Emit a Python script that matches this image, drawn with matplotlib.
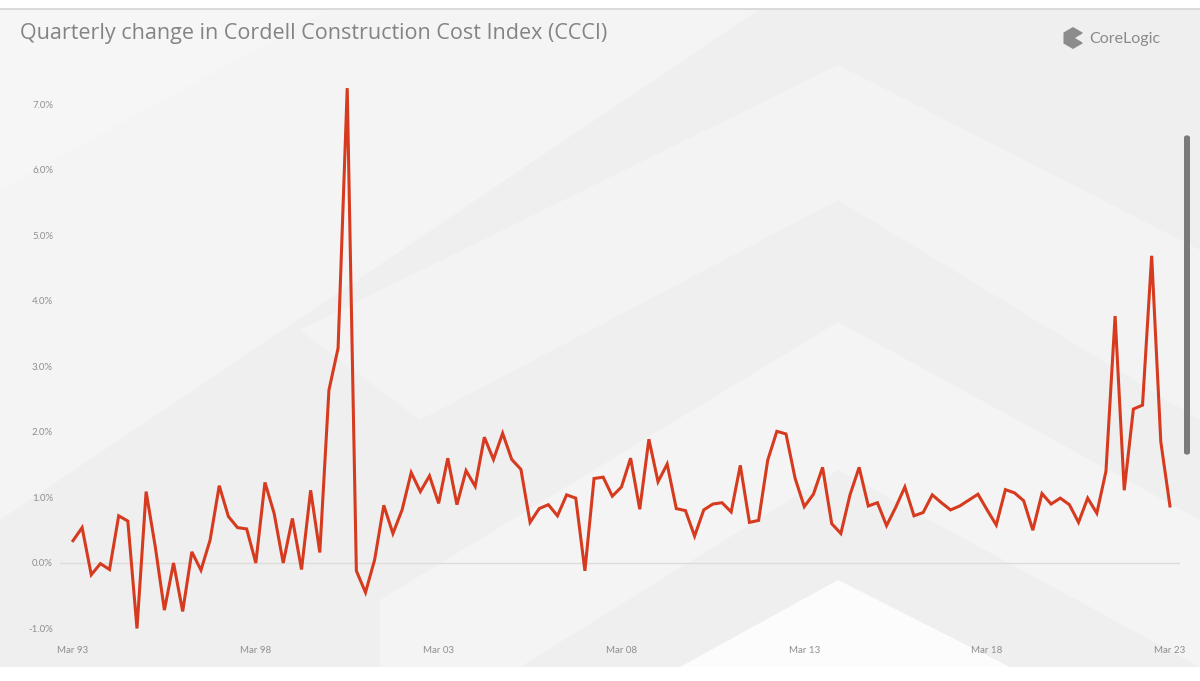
import matplotlib
matplotlib.use("Agg")
import matplotlib.pyplot as plt
from matplotlib.patches import Polygon, Rectangle, FancyBboxPatch
import numpy as np

# quarterly % change, Mar 93 .. Mar 23
ccci_change = [
    0.34, 0.54, -0.18, -0.01, -0.10, 0.72, 0.64, -1.00, 1.09, 0.25,
    -0.72, 0.00, -0.74, 0.17, -0.11, 0.35, 1.18, 0.71, 0.54, 0.52,
    0.00, 1.23, 0.76, 0.00, 0.68, -0.10, 1.11, 0.16, 2.64, 3.28,
    7.25, -0.12, -0.45, 0.05, 0.88, 0.45, 0.81, 1.38, 1.09, 1.33,
    0.91, 1.60, 0.89, 1.41, 1.17, 1.92, 1.58, 1.98, 1.58, 1.43,
    0.62, 0.83, 0.89, 0.72, 1.04, 0.99, -0.12, 1.29, 1.31, 1.02,
    1.16, 1.60, 0.82, 1.89, 1.24, 1.51, 0.83, 0.80, 0.41, 0.81,
    0.90, 0.92, 0.78, 1.49, 0.62, 0.65, 1.57, 2.01, 1.97, 1.29,
    0.86, 1.05, 1.46, 0.60, 0.45, 1.04, 1.46, 0.87, 0.92, 0.57,
    0.85, 1.16, 0.72, 0.77, 1.04, 0.92, 0.81, 0.87, 0.96, 1.05,
    0.81, 0.58, 1.12, 1.07, 0.95, 0.50, 1.06, 0.90, 0.99, 0.89,
    0.62, 0.99, 0.76, 1.40, 3.77, 1.11, 2.35, 2.41, 4.69, 1.85,
    0.87,
]
tick_labels = ["Mar 93", "Mar 98", "Mar 03", "Mar 08", "Mar 13", "Mar 18", "Mar 23"]
y_ticks = [-1, 0, 1, 2, 3, 4, 5, 6, 7]

W, H = 1200, 681
fig = plt.figure(figsize=(W / 100, H / 100), dpi=100)
fig.patch.set_facecolor("white")

def px(x, y):
    return (x / W, 1 - y / H)

# panel background
fig.patches.append(Rectangle(px(0, 667), 1, (667 - 9) / H, transform=fig.transFigure,
                             facecolor="#efefef", edgecolor="none", zorder=0))
fig.add_artist(plt.Line2D([0, 1], [1 - 9 / H] * 2, transform=fig.transFigure,
                          color="#d4d4d4", lw=1.2, zorder=1))

# decorative light shapes
shapes = [
    [(0, 9), (330, 9), (0, 190)],
    [(0, 190), (330, 9), (760, 9), (0, 520)],
    [(838, 65), (1200, 250), (1200, 420), (838, 200), (420, 420), (300, 330)],
    [(838, 322), (1200, 520), (1200, 667), (838, 470), (520, 667), (380, 667), (380, 600)],
    [(838, 580), (1010, 667), (680, 667)],
]
alphas = [0.45, 0.35, 0.3, 0.35, 0.85]
for pts, a in zip(shapes, alphas):
    fig.patches.append(Polygon([px(x, y) for x, y in pts], closed=True, transform=fig.transFigure,
                               facecolor="white", edgecolor="none", alpha=a, zorder=0.5))

# scroll bar on right edge
fig.patches.append(FancyBboxPatch(px(1184, 455), 6 / W, 320 / H, transform=fig.transFigure,
                                  boxstyle="round,pad=0,rounding_size=0.004",
                                  facecolor="#7a7a7a", edgecolor="none", zorder=3))

ax = fig.add_axes([60 / W, 1 - 640 / H, 1120 / W, 560 / H])
ax.set_zorder(2)
ax.set_facecolor("none")
x = np.arange(len(ccci_change))
ax.axhline(0, color="#dcdcdc", lw=1, zorder=1)
ax.plot(x, ccci_change, color="#d63b1f", lw=2.2, solid_joinstyle="miter", zorder=3)

ax.set_xlim(-1.42, 121.1)
ax.set_ylim(-1.176, 7.374)
ax.set_xticks(np.arange(0, 121, 20))
ax.set_xticklabels(tick_labels, fontsize=7, color="#8f8f8f", family="Lato")
ax.set_yticks(y_ticks)
ax.set_yticklabels([f"{v:.1f}%" for v in y_ticks], fontsize=7, color="#8f8f8f", family="Lato")
ax.tick_params(length=0, pad=4)
ax.tick_params(axis="y", pad=5)
for s in ax.spines.values():
    s.set_visible(False)

fig.text(20 / W, 1 - 33 / H, "Quarterly change in Cordell Construction Cost Index (CCCI)",
         fontsize=15.5, color="#848484", family="Open Sans", va="center", ha="left")

# CoreLogic logo
lx, ly = 1073, 38
hexagon = [(lx + 11 * np.cos(a), ly + 11 * np.sin(a)) for a in np.linspace(np.pi / 6, 2 * np.pi + np.pi / 6, 7)]
fig.patches.append(Polygon([px(a, b) for a, b in hexagon], closed=True, transform=fig.transFigure,
                           facecolor="#8c8c8c", edgecolor="none", zorder=4))
fig.patches.append(Polygon([px(lx + 2, ly), px(lx + 12, ly - 6), px(lx + 12, ly + 6)], closed=True,
                           transform=fig.transFigure, facecolor="#efefef", edgecolor="none", zorder=5))
fig.text(1089 / W, 1 - 39 / H, "CoreLogic", fontsize=11.5, color="#8a8a8a", family="Lato",
         va="center", ha="left")

fig.savefig("out.png", dpi=100)
